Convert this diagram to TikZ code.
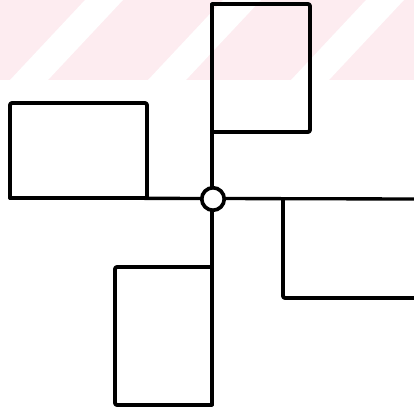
\documentclass[tikz,border=0pt]{standalone}
\definecolor{wmpink}{RGB}{253,236,240}
\tikzset{
  edge/.style={line width=2.2pt, line join=round, line cap=round, rounded corners=1.2pt},
  axis/.style={line width=1.9pt, line cap=round},
  hubstyle/.style={circle, draw, line width=2.1pt, fill=white, minimum size=0.45cm, inner sep=0pt},
}
\begin{document}
\begin{tikzpicture}[x=0.02cm, y=-0.02cm]
\useasboundingbox (0,0) rectangle (414,409);
% faint watermark band
\begin{scope}
  \clip (0,0) rectangle (414,80);
  \fill[wmpink] (0,0) rectangle (414,80);
  \foreach \b in {10,148,291}{
    \fill[white] (\b,80) -- (\b+38,80) -- (\b+113,0) -- (\b+75,0) -- cycle;
  }
\end{scope}
% named points
\coordinate (vtop) at (212,4);
\coordinate (vbot) at (212,405);
\coordinate (hleft) at (10,198);
\coordinate (hright) at (414,199);
% axes
\draw[axis] (vtop) -- (vbot);
\draw[axis] (hleft) -- (hright);
% top-right rectangle
\draw[edge] (212,132) -- (310,132) -- (310,4) -- (212,4);
% left rectangle
\draw[edge] (10,198) -- (10,103) -- (147,103) -- (147,198);
\draw[edge] (10,198) -- (147,198);
% right rectangle
\draw[edge] (283,199) -- (283,298) -- (414,298);
% bottom rectangle
\draw[edge] (212,267) -- (115,267) -- (115,405) -- (212,405);
% hub
\node[hubstyle] (hub) at (213,199) {};
\end{tikzpicture}
\end{document}
